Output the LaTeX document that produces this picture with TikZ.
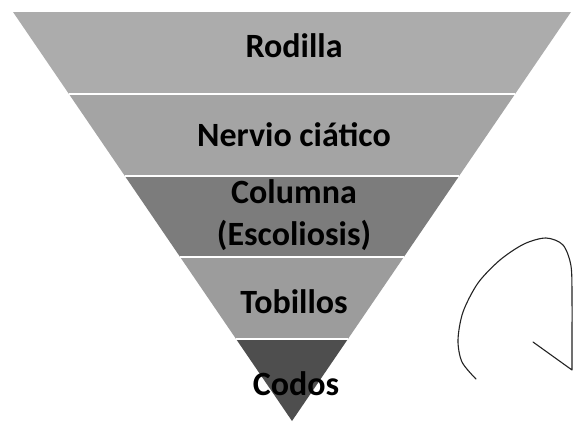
\documentclass[tikz,border=0pt]{standalone}
\usepackage{fontspec}
\setmainfont{Carlito}
\usetikzlibrary{calc}
\definecolor{BandOne}{RGB}{172,172,172}
\definecolor{BandTwo}{RGB}{164,164,164}
\definecolor{BandThree}{RGB}{124,124,124}
\definecolor{BandFour}{RGB}{156,156,156}
\definecolor{BandFive}{RGB}{78,78,78}
\definecolor{PenInk}{RGB}{35,35,35}

\begin{document}
\begin{tikzpicture}[x=1pt, y=-1pt,
    sep/.style={white, line width=2pt},
    tier/.style={font=\fontsize{34}{42}\selectfont\bfseries, text=black, align=center, inner sep=0pt},
    pen/.style={PenInk, line width=1.1pt, line cap=round, line join=round}]
  \useasboundingbox (0,0) rectangle (574,423);
  \coordinate (tl) at (13,12);
  \coordinate (tr) at (571,12);
  \coordinate (apex) at (292,421);
  \foreach \k in {0,...,5}{
    \coordinate (l\k) at ($(tl)!\k/5!(apex)$);
    \coordinate (r\k) at ($(tr)!\k/5!(apex)$);
  }
  % the inverted pyramid
  \fill[BandOne] (l0) -- (r0) -- (r1) -- (l1) -- cycle;
  \fill[BandTwo] (l1) -- (r1) -- (r2) -- (l2) -- cycle;
  \fill[BandThree] (l2) -- (r2) -- (r3) -- (l3) -- cycle;
  \fill[BandFour] (l3) -- (r3) -- (r4) -- (l4) -- cycle;
  \fill[BandFive] (l4) -- (r4) -- (apex) -- cycle;
  \foreach \k in {1,...,4}
    \draw[sep] (l\k) -- (r\k);

  \node[tier] (rodilla) at (294,46) {Rodilla};
  \node[tier] (nervio) at (294,135) {Nervio ciático};
  \node[tier] (columna) at (294,215) {Columna\\(Escoliosis)};
  \node[tier] (tobillos) at (294,302) {Tobillos};
  \node[tier] (codos) at (296,384) {Codos};

  % hand-drawn mark
  \draw[pen] plot[smooth] coordinates {(476,379) (462,362) (458,340) (463,312) (478,283) (500,260) (524,244) (546,238) (563,245) (571,266) (572,300) (572,340) (572,370)}
    -- (533,342);
\end{tikzpicture}
\end{document}
